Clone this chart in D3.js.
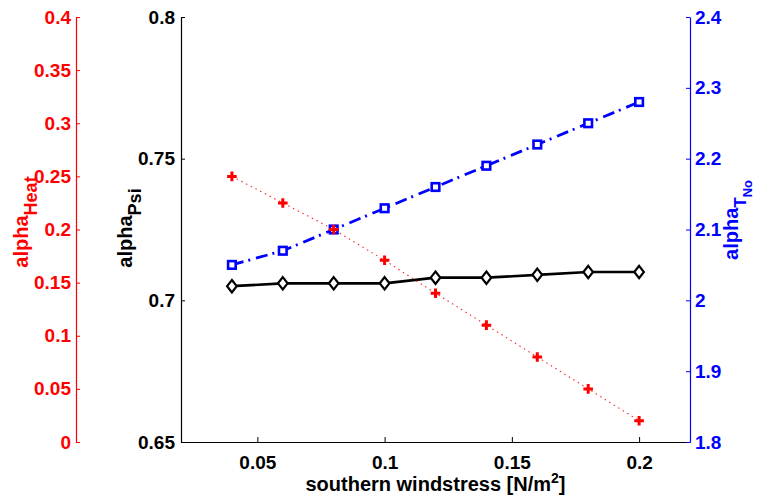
<!DOCTYPE html>
<html>
<head>
<meta charset="utf-8">
<script src="https://cdn.jsdelivr.net/npm/d3@7"></script>
<style>
  html, body { margin: 0; padding: 0; background: #fff; }
  svg { display: block; }
  text { font-family: "Liberation Sans", Arial, Helvetica, sans-serif; font-weight: bold; }
</style>
</head>
<body>
<svg id="chart" width="757" height="501"></svg>
<script>
// Southern windstress experiments
const windstress = [0.04, 0.06, 0.08, 0.10, 0.12, 0.14, 0.16, 0.18, 0.20];
const alphaPsi   = [0.705, 0.706, 0.706, 0.706, 0.708, 0.708, 0.709, 0.710, 0.710];
const alphaTNo   = [2.05, 2.07, 2.10, 2.13, 2.16, 2.19, 2.22, 2.25, 2.28];
const alphaHeat  = [0.25, 0.225, 0.20, 0.171, 0.14, 0.11, 0.08, 0.05, 0.02];

const xTicks    = [0.05, 0.1, 0.15, 0.2];
const psiTicks  = [0.65, 0.7, 0.75, 0.8];
const heatTicks = [0, 0.05, 0.1, 0.15, 0.2, 0.25, 0.3, 0.35, 0.4];
const tnoTicks  = [1.8, 1.9, 2, 2.1, 2.2, 2.3, 2.4];

const RED = "#ff0000", BLUE = "#0000ff", BLACK = "#000000";
const FS = 19, LFS = 20;

const svg = d3.select("#chart");
const plotL = 181, plotR = 690, plotT = 17, plotB = 442, redAxisX = 76;

const x    = d3.scaleLinear().domain([0.02, 0.22]).range([plotL, plotR]);
const yPsi = d3.scaleLinear().domain([0.65, 0.8]).range([plotB, plotT]);
const yHt  = d3.scaleLinear().domain([0, 0.4]).range([plotB, plotT]);
const yTNo = d3.scaleLinear().domain([1.8, 2.4]).range([plotB, plotT]);
const fmt = d3.format("~g");

function styleAxis(g, color) {
  g.selectAll("path.domain").attr("stroke", color).attr("stroke-width", 1.2);
  g.selectAll(".tick line").attr("stroke", color).attr("stroke-width", 1);
  g.selectAll(".tick text").attr("fill", color)
    .style("font-size", FS + "px").style("font-weight", "bold")
    .style("font-family", '"Liberation Sans", Arial, sans-serif');
}

// x axis
const gx = svg.append("g").attr("transform", `translate(0,${plotB})`)
  .call(d3.axisBottom(x).tickValues(xTicks).tickFormat(fmt)
    .tickSizeInner(-5).tickSizeOuter(0).tickPadding(14));
styleAxis(gx, BLACK);

// left (Psi) axis
const gPsi = svg.append("g").attr("transform", `translate(${plotL},0)`)
  .call(d3.axisLeft(yPsi).tickValues(psiTicks).tickFormat(fmt)
    .tickSizeInner(-4).tickSizeOuter(0).tickPadding(6));
styleAxis(gPsi, BLACK);

// outer-left (Heat) axis
const gHt = svg.append("g").attr("transform", `translate(${redAxisX},0)`)
  .call(d3.axisLeft(yHt).tickValues(heatTicks).tickFormat(fmt)
    .tickSizeInner(-4).tickSizeOuter(0).tickPadding(5));
styleAxis(gHt, RED);

// right (T_No) axis
const gTNo = svg.append("g").attr("transform", `translate(${plotR},0)`)
  .call(d3.axisRight(yTNo).tickValues(tnoTicks).tickFormat(fmt)
    .tickSizeInner(-4).tickSizeOuter(0).tickPadding(5));
styleAxis(gTNo, BLUE);

// axis titles
svg.append("text")
  .attr("x", x(0.12)).attr("y", 491)
  .attr("text-anchor", "middle").attr("fill", BLACK)
  .style("font-size", LFS + "px")
  .call(t => {
    t.append("tspan").text("southern windstress [N/m");
    t.append("tspan").attr("dy", -8).style("font-size", "14px").text("2");
    t.append("tspan").attr("dy", 8).text("]");
  });

function yLabel(cx, cy, color, parts) {
  const t = svg.append("text")
    .attr("transform", `translate(${cx},${cy}) rotate(-90)`)
    .attr("text-anchor", "middle").attr("fill", color)
    .style("font-size", LFS + "px");
  parts.forEach(p => {
    const s = t.append("tspan").text(p.text);
    if (p.dy) s.attr("dy", p.dy);
    if (p.size) s.style("font-size", p.size + "px");
  });
}
yLabel(28, 222, RED, [{text: "alpha"}, {text: "Heat", dy: 9, size: 18}]);
yLabel(132, 228, BLACK, [{text: "alpha"}, {text: "Psi", dy: 9, size: 18}]);
yLabel(738, 220, BLUE, [{text: "alpha"}, {text: "T", dy: 8, size: 17}, {text: "No", dy: 6, size: 13}]);

// series lines
const linePsi = d3.line().x((d, i) => x(windstress[i])).y(d => yPsi(d));
const lineTNo = d3.line().x((d, i) => x(windstress[i])).y(d => yTNo(d));
const lineHt  = d3.line().x((d, i) => x(windstress[i])).y(d => yHt(d));

svg.append("path").datum(alphaPsi).attr("d", linePsi)
  .attr("fill", "none").attr("stroke", BLACK).attr("stroke-width", 2.6);
svg.append("path").datum(alphaTNo).attr("d", lineTNo)
  .attr("fill", "none").attr("stroke", BLUE).attr("stroke-width", 2.8)
  .attr("stroke-dasharray", "12,5,2,6");
svg.append("path").datum(alphaHeat).attr("d", lineHt)
  .attr("fill", "none").attr("stroke", RED).attr("stroke-width", 1.1)
  .attr("stroke-dasharray", "1.5,3.8").attr("opacity", 0.85);

// markers
svg.append("g").selectAll("path").data(alphaPsi).join("path")
  .attr("transform", (d, i) => `translate(${x(windstress[i])},${yPsi(d)})`)
  .attr("d", "M0,-6.2L4.8,0L0,6.2L-4.8,0Z")
  .attr("fill", "#fff").attr("stroke", BLACK).attr("stroke-width", 2.2);

svg.append("g").selectAll("rect").data(alphaTNo).join("rect")
  .attr("x", (d, i) => x(windstress[i]) - 3.8).attr("y", d => yTNo(d) - 3.8)
  .attr("width", 7.6).attr("height", 7.6)
  .attr("fill", "#fff").attr("stroke", BLUE).attr("stroke-width", 2.6);

svg.append("g").selectAll("path").data(alphaHeat).join("path")
  .attr("transform", (d, i) => `translate(${x(windstress[i])},${yHt(d)})`)
  .attr("d", "M-4.8,0H4.8M0,-4.8V4.8")
  .attr("fill", "none").attr("stroke", RED).attr("stroke-width", 3);
</script>
</body>
</html>
